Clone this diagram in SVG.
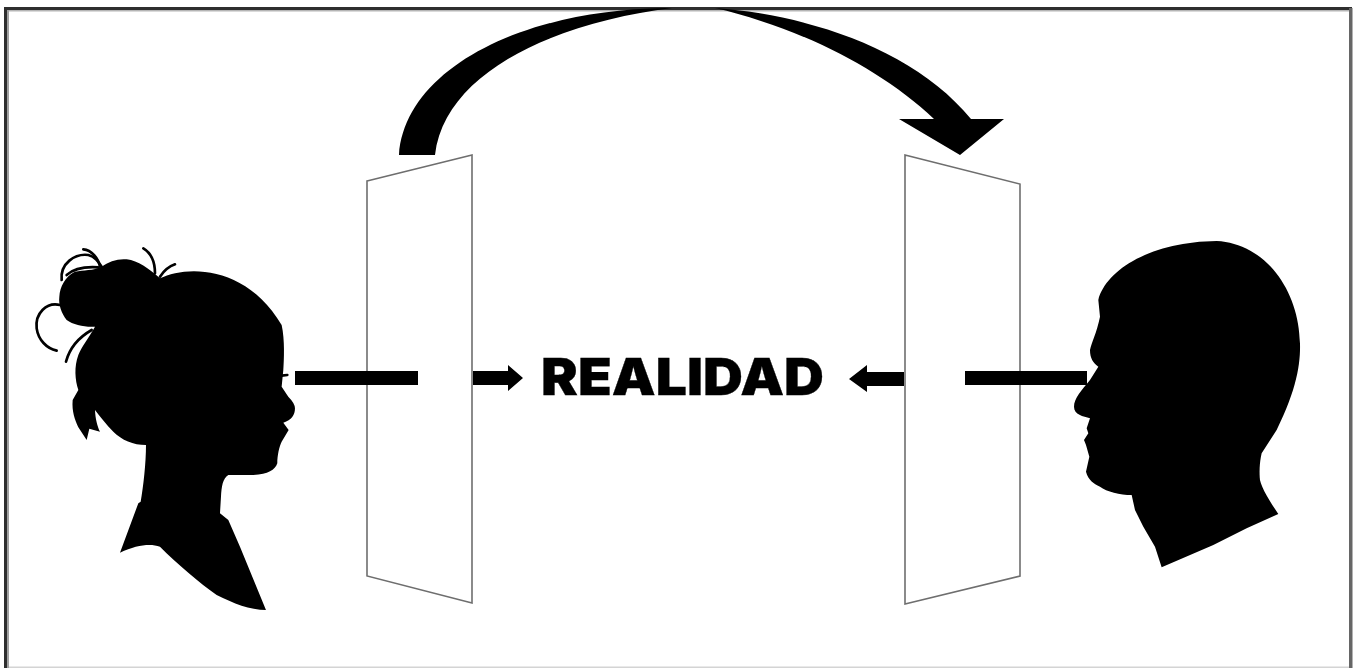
<svg xmlns="http://www.w3.org/2000/svg" width="1357" height="668" viewBox="0 0 1357 668">
<style>
.sil{fill:#000}
.hair{fill:none;stroke:#000;stroke-width:8;stroke-linecap:round}
.panel{fill:#fff;stroke:#6e6e6e;stroke-width:1.6}
.conn{fill:#000}
.label{font-family:Inter,"Liberation Sans",Arial,sans-serif;font-weight:900;font-size:51px;fill:#000;stroke:#000;stroke-width:.3;stroke-linejoin:miter}
</style>
<defs><filter id="soft" x="-5%" y="-5%" width="110%" height="110%"><feGaussianBlur stdDeviation="0.7"/></filter></defs>
<rect width="1357" height="668" fill="#fff"/>
<g id="frame">
<rect x="4" y="7" width="3" height="661" fill="#2e2e2e"/>
<rect x="7" y="9" width="2" height="659" fill="#a0a0a0"/>
<rect x="4" y="7" width="1348" height="3" fill="#2e2e2e"/>
<rect x="9" y="10" width="1340" height="1.500" fill="#b5b5b5"/>
<rect x="1349" y="8" width="3.500" height="660" fill="#666"/>
<rect x="9" y="666.500" width="1340" height="1.500" fill="#d4d4d4"/>
</g>
<g filter="url(#soft)">
<g id="panel-left"><polygon class="panel" points="367,181 472,155 472,603 367,576"/></g>
<g id="panel-right"><polygon class="panel" points="905,155 1020,184 1020,576 905,604"/></g>
<g id="woman" transform="translate(20 230) scale(.3333)">
<path class="sil" d="M300,968 L355,820 L362,815 C370,770 378,700 378,645 C340,645 305,630 280,605 C260,585 240,560 225,540 C226,565 232,590 240,605 L208,596 L200,630 L175,592 C165,570 155,545 158,510 L175,480 C165,450 162,410 175,375 C185,350 205,325 225,290 C195,292 160,285 140,270 C125,250 115,225 118,200 C120,170 135,140 165,125 C190,120 220,122 245,110 C265,95 295,85 320,88 C355,92 385,115 420,145 C500,105 680,105 785,285 C795,330 792,390 790,420 L785,470 L805,500 Q825,520 825,535 C825,555 815,570 790,578 L806,600 L785,635 C778,650 772,675 772,700 C765,720 745,733 700,735 L625,735 C608,745 605,770 603,800 L600,850 L625,870 L660,950 L738,1140 C690,1140 640,1120 590,1095 C540,1060 470,1000 420,950 C390,940 350,945 300,968 Z"/>
<path class="hair" d="M120,225 C80,215 45,250 50,295 C55,330 80,355 110,362"/>
<path class="hair" d="M125,150 C120,100 165,70 205,75 C225,80 235,95 245,110"/>
<path class="hair" d="M140,135 C165,112 205,110 235,112"/>
<path class="hair" d="M190,58 C215,60 235,85 240,110"/>
<path class="hair" d="M370,55 C395,70 405,95 405,130"/>
<path class="hair" d="M420,140 C430,125 445,110 465,103"/>
<path class="hair" d="M215,300 C180,320 150,350 138,395"/>
<path class="hair" d="M785,437 L802,435"/>
</g>
<g id="man" transform="translate(1060 230) scale(.3333)">
<path class="sil" d="M305,1012 L285,950 L250,890 L225,840 L215,795 C180,795 140,785 120,770 C100,760 85,750 78,725 L88,680 L78,645 L72,630 L85,610 L80,595 L90,565 C70,558 42,555 42,530 C42,505 65,480 90,450 L115,410 C100,400 90,385 90,360 C95,335 110,310 120,260 L115,210 C140,115 280,35 470,33 C615,40 718,180 720,340 C722,400 710,480 650,600 L605,670 C598,700 598,730 600,750 C605,775 630,815 655,852 L560,895 L460,945 L305,1012 Z"/>
</g>
<g id="connectors">
<path class="conn" d="M399,155 C405,70 520,10 665,8 L672,8 C560,22 445,70 435,155 Z"/>
<path class="conn" d="M715,8 C810,15 915,50 971,119 L1004,119 L960,155 L899,119 L934,119 C880,68 800,28 715,8 Z"/>
<rect class="conn" x="295" y="371" width="123" height="14"/>
<rect class="conn" x="965" y="371" width="122" height="14"/>
<polygon class="conn" points="473,371 508,371 508,365 523,378 508,391 508,385 473,385"/>
<polygon class="conn" points="904,372 867,372 867,365 849,379 867,392 867,386 904,386"/>
</g>
<g id="realidad"><text class="label" x="541" y="395" textLength="283" lengthAdjust="spacingAndGlyphs">REALIDAD</text></g>
</g>
</svg>
